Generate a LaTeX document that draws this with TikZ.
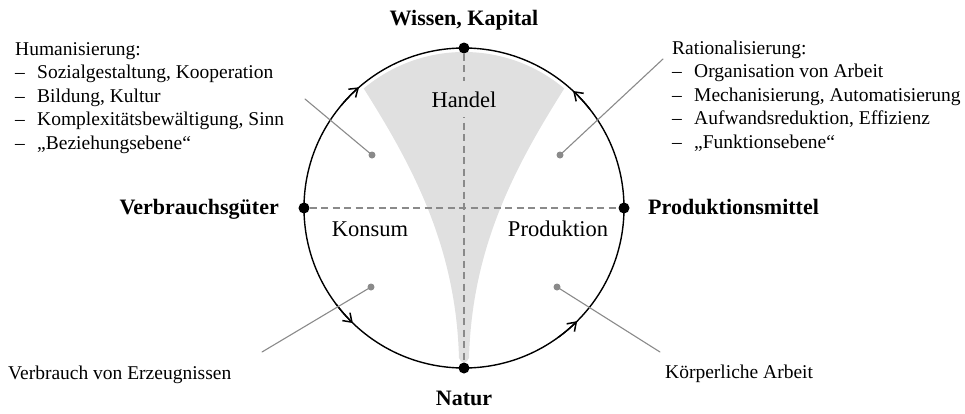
\documentclass[tikz,border=0pt]{standalone}
\usepackage{fontspec}
\setmainfont{Liberation Serif}
\usetikzlibrary{positioning,calc,arrows.meta}

\definecolor{cupgray}{HTML}{E0E0E0}
\definecolor{ptrgray}{HTML}{8A8A8A}

\newcommand{\listdash}{\makebox[22pt][l]{--}}

\begin{document}
\begin{tikzpicture}[
				x=1pt,y=1pt,
				line cap=round,line join=round,
				txt/.style={font=\fontsize{19.5}{23.5}\selectfont, inner sep=0pt},
				sector/.style={font=\fontsize{22.5}{26}\selectfont, inner sep=0pt},
				pole/.style={font=\fontsize{22}{26}\selectfont\bfseries, inner sep=0pt},
				axis/.style={ptrgray, line width=1.2pt, dash pattern=on 7pt off 4.5pt, line cap=butt},
				flow/.style={line width=1.4pt, -{Straight Barb[length=8pt,width=11pt,line width=1.5pt]}},
				pointer/.style={ptrgray, line width=1.1pt},
				pdot/.style={circle, fill=ptrgray, inner sep=0pt, minimum size=7pt},
				bigdot/.style={circle, fill=black, inner sep=0pt, minimum size=11pt}
				]
				% ---- parameters
				\def\R{160}         % radius of the cycle
				\def\Rin{156}       % radius of the gray cup top
				
				\useasboundingbox (-464,-205) rectangle (501,208);
				
				% gray cup (Handel)
				\fill[cupgray] (50:\Rin) arc[start angle=50,end angle=130,radius=\Rin]
				.. controls (-50,40) and (-8,-40) .. (-5,-150)
				.. controls (-3,-156) and (3,-156) .. (5,-150)
				.. controls (8,-40) and (50,40) .. cycle;
				
				% poles on the circle
				\node[bigdot] (top) at (90:\R) {};
				\node[bigdot] (bottom) at (270:\R) {};
				\node[bigdot] (left) at (180:\R) {};
				\node[bigdot] (right) at (0:\R) {};
				
				% dashed axes
				\draw[axis] (left) -- (right);
				\draw[axis] (top) -- (bottom);
				
				% outer circle + flow arrows
				\draw[line width=1.4pt] (0,0) circle[radius=\R];
				\foreach \a/\b in {140/131, 38/47, 217/226, 306/315}{
					\draw[flow] (\a:\R) arc[start angle=\a, end angle=\b, radius=\R];
				}
				
				% sector labels
				\node[sector, fill=cupgray, inner xsep=3pt, inner ysep=10pt, anchor=base] (handel) at (0,101) {Handel};
				\node[sector, anchor=base] (konsum) at (-94,-28) {Konsum};
				\node[sector, anchor=base] (produktion) at (94,-28) {Produktion};
				
				% pole labels
				\node[pole, anchor=base] (wissen) at (0,183) {Wissen, Kapital};
				\node[pole, anchor=base] (natur) at (0,-197) {Natur};
				\node[pole, anchor=base east] (verbrauchsgueter) at (-185,-6) {Verbrauchsgüter};
				\node[pole, anchor=base west] (produktionsmittel) at (184,-6) {Produktionsmittel};
				
				% side texts
				\node[txt, anchor=base west] (human) at (-449,153) {%
					\begin{tabular}[t]{@{}l@{}}
						Humanisierung:\\
						\listdash Sozialgestaltung, Kooperation\\
						\listdash Bildung, Kultur\\
						\listdash Komplexitätsbewältigung, Sinn\\
						\listdash „Beziehungsebene“
				\end{tabular}};
				\node[txt, anchor=base west] (ratio) at (208,154) {%
					\begin{tabular}[t]{@{}l@{}}
						Rationalisierung:\\
						\listdash Organisation von Arbeit\\
						\listdash Mechanisierung, Automatisierung\\
						\listdash Aufwandsreduktion, Effizienz\\
						\listdash „Funktionsebene“
				\end{tabular}};
				\node[txt, anchor=base west] (verbrauch) at (-456,-171) {Verbrauch von Erzeugnissen};
				\node[txt, anchor=base west] (arbeit) at (201,-170) {Körperliche Arbeit};
				
				% pointers
				\node[pdot] (humDot) at (-92,53) {};
				\node[pdot] (ratioDot) at (96,53) {};
				\node[pdot] (verbrauchDot) at (-93,-79) {};
				\node[pdot] (arbeitDot) at (93,-79) {};
				\coordinate (humEnd) at (-159,109);
				\coordinate (ratioEnd) at (199,149);
				\coordinate (verbrauchEnd) at (-202,-144);
				\coordinate (arbeitEnd) at (196,-144);
				\draw[pointer] (humEnd) -- (humDot.center);
				\draw[pointer] (ratioEnd) -- (ratioDot.center);
				\draw[pointer] (verbrauchEnd) -- (verbrauchDot.center);
				\draw[pointer] (arbeitEnd) -- (arbeitDot.center);
			\end{tikzpicture}
\end{document}
